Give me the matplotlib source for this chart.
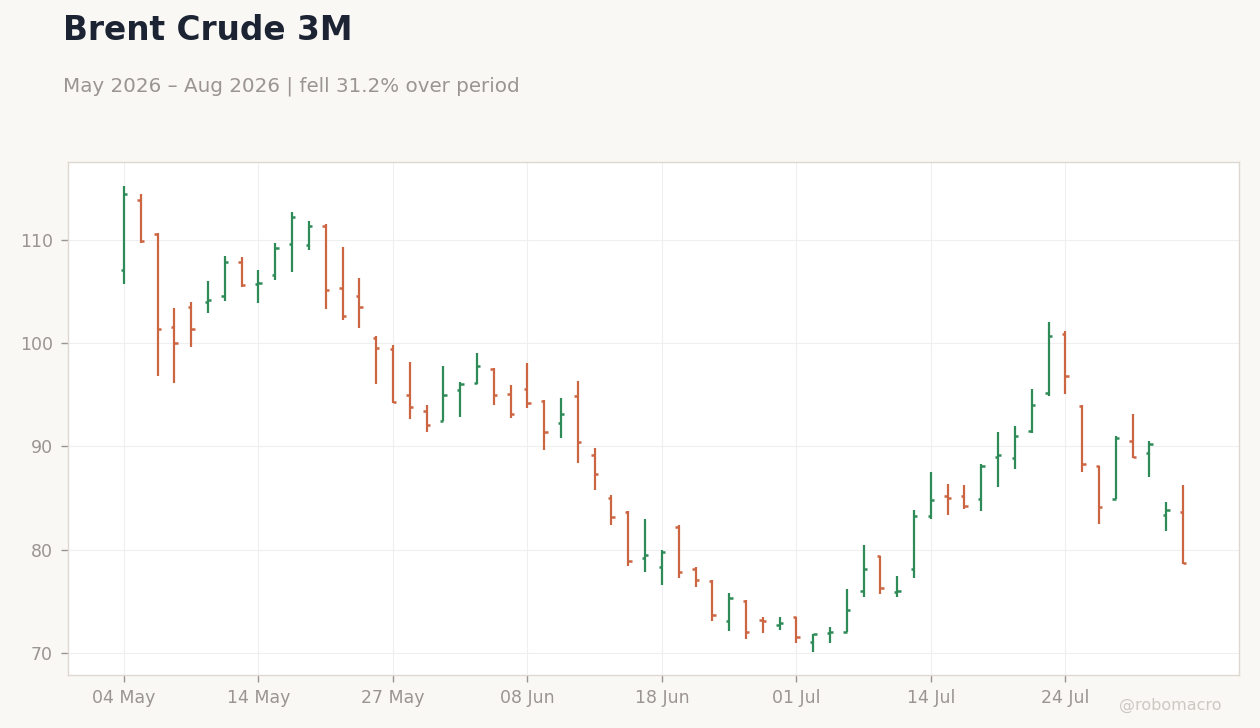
import matplotlib
matplotlib.use('Agg')
import matplotlib.pyplot as plt
import numpy as np
import pandas as pd

# trading days (weekdays, US holidays skipped)
dates = pd.bdate_range('2026-05-04', periods=64, freq='C',
                       holidays=['2026-05-25', '2026-06-19', '2026-07-03'])

opens = [107.1, 113.8, 110.5, 101.5, 103.5, 104.0, 104.5, 107.8, 105.7, 106.6,
         109.6, 109.5, 111.3, 105.3, 104.5, 100.5, 99.4, 95.0, 93.4, 92.4,
         95.4, 96.1, 97.5, 95.1, 95.5, 94.4, 92.3, 94.9, 89.2, 85.0,
         83.6, 79.2, 78.3, 82.2, 78.1, 77.0, 73.1, 75.0, 73.2, 72.7,
         73.5, 71.1, 71.9, 72.0, 76.0, 79.4, 75.9, 78.1, 83.3, 85.2,
         85.2, 84.9, 89.0, 88.9, 91.5, 95.2, 100.9, 93.9, 88.1, 84.9,
         90.5, 89.4, 83.4, 83.6]
highs = [115.2, 114.4, 110.6, 103.4, 104.0, 106.0, 108.4, 108.3, 107.1, 109.7,
         112.7, 111.8, 111.5, 109.3, 106.3, 100.7, 99.8, 98.2, 94.0, 97.8,
         96.2, 99.0, 97.6, 95.9, 98.1, 94.5, 94.7, 96.3, 89.8, 85.3,
         83.7, 83.0, 80.0, 82.4, 78.3, 77.1, 75.8, 75.1, 73.5, 73.5,
         73.5, 71.8, 72.5, 76.2, 80.5, 79.4, 77.5, 83.8, 87.5, 86.4,
         86.3, 88.3, 91.4, 92.0, 95.5, 102.0, 101.2, 94.0, 88.1, 91.0,
         93.1, 90.5, 84.6, 86.3]
lows = [105.7, 109.7, 96.8, 96.1, 99.6, 102.9, 104.1, 105.4, 103.9, 106.1,
        106.9, 109.0, 103.3, 102.2, 101.4, 96.0, 94.2, 92.6, 91.4, 92.4,
        92.8, 96.0, 94.0, 92.7, 93.7, 89.6, 90.8, 88.4, 85.8, 82.4,
        78.4, 77.8, 76.6, 77.3, 76.4, 73.1, 72.1, 71.4, 71.9, 72.2,
        71.0, 70.1, 71.0, 72.0, 75.4, 75.7, 75.4, 77.3, 83.0, 83.4,
        83.9, 83.7, 86.1, 87.8, 91.3, 94.9, 95.1, 87.5, 82.5, 84.9,
        88.9, 87.0, 81.8, 78.6]
closes = [114.4, 109.9, 101.3, 100.0, 101.3, 104.2, 107.8, 105.6, 105.8, 109.2,
          112.2, 111.3, 105.1, 102.6, 103.5, 99.5, 94.3, 93.8, 92.1, 95.0,
          96.0, 97.8, 95.0, 93.1, 94.2, 91.4, 93.1, 90.4, 87.3, 83.2,
          78.9, 79.5, 79.8, 77.8, 77.1, 73.7, 75.3, 72.0, 73.1, 72.9,
          71.6, 71.8, 72.0, 74.2, 78.1, 76.3, 76.0, 83.3, 84.8, 85.0,
          84.2, 88.1, 89.2, 91.0, 94.0, 100.7, 96.8, 88.3, 84.1, 90.8,
          89.0, 90.2, 83.8, 78.7]

up_color = '#2e8b57'
down_color = '#cc6642'
bg = '#f9f8f5'
grey = '#9a9590'

fig = plt.figure(figsize=(12.6, 7.28), dpi=100, facecolor=bg)
ax = fig.add_axes([68/1260, 53/728, (1239-68)/1260, (675-162)/728])
ax.set_facecolor('white')

x = np.arange(len(dates))
o = np.array(opens); h = np.array(highs); l = np.array(lows); c = np.array(closes)
colors = np.where(c >= o, up_color, down_color)
tw = 0.2  # open/close tick length in bar units

ax.vlines(x, l, h, colors=colors, linewidth=1.6, zorder=3)
ax.hlines(o, x - tw, x, colors=colors, linewidth=1.8, zorder=3)
ax.hlines(c, x, x + tw, colors=colors, linewidth=1.8, zorder=3)

ax.set_xlim(-3.33, len(x) - 1 + 3.33)
ax.set_ylim(67.88, 117.5)
ax.set_yticks([70, 80, 90, 100, 110])

tick_idx = list(range(0, len(x), 8))
ax.set_xticks(tick_idx)
ax.set_xticklabels([dates[i].strftime('%d %b') for i in tick_idx])

ax.grid(True, color='#efefef', linewidth=0.8, zorder=0)
ax.set_axisbelow(True)
for s in ax.spines.values():
    s.set_color('#ddd8d0')
    s.set_linewidth(1.0)
ax.tick_params(colors=grey, labelsize=12.5, length=5, width=1)
ax.tick_params(axis='y', pad=6)
ax.tick_params(axis='x', pad=5)

fig.text(63/1260, 1 - 40/728, 'Brent Crude 3M', fontsize=23.6, fontweight='bold',
         color='#1c2434', va='baseline', ha='left')
fig.text(63/1260, 1 - 92/728, 'May 2026 \u2013 Aug 2026 | fell 31.2% over period',
         fontsize=14.3, color=grey, va='baseline', ha='left')
fig.text(1222/1260, 1 - 710/728, '@robomacro', fontsize=11.5, color='#cdc9c2',
         va='baseline', ha='right')

fig.savefig('out.png', dpi=100, facecolor=bg)
